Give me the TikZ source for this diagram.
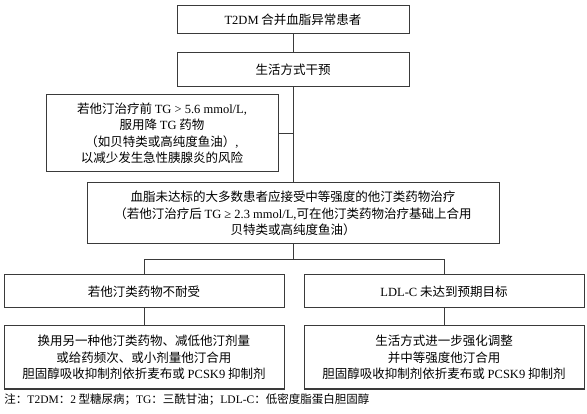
\documentclass[tikz,border=0pt]{standalone}
\usepackage{fontspec}
\setmainfont{Noto Sans CJK SC}
\newfontfamily\latfont{Liberation Serif}
\newcommand{\lat}[1]{{\latfont #1}}
\usetikzlibrary{positioning}
\definecolor{linegray}{HTML}{3A3A3A}

\begin{document}
\begin{tikzpicture}[x=1pt,y=-1pt,line width=1pt,draw=linegray,
    box/.style={draw=linegray,align=center,inner sep=2pt,font=\fontsize{12.5}{16.5}\selectfont},
    wide box/.style={box,minimum width=232pt},
    low box/.style={box,minimum width=280pt}]
\useasboundingbox (0,0) rectangle (587,414);

\node[wide box,minimum height=28pt] (t2dm) at (293,20) {\lat{T2DM} 合并血脂异常患者};
\node[wide box,minimum height=34pt] (life) [below=18pt of t2dm] {生活方式干预};
\node[wide box,minimum height=77pt] (tg) at (162,133.5) {若他汀治疗前 \lat{TG > 5.6 mmol/L,}\\服用降 \lat{TG} 药物\\（如贝特类或高纯度鱼油）\lat{,}\\以减少发生急性胰腺炎的风险};
\node[box,minimum width=412pt,minimum height=61pt] (statin) at (293,213.5) {血脂未达标的大多数患者应接受中等强度的他汀类药物治疗\\（若他汀治疗后 \lat{TG ≥ 2.3 mmol/L,}可在他汀类药物治疗基础上合用\\贝特类或高纯度鱼油）};
\node[low box,minimum height=33pt] (intol) at (144,291.5) {若他汀类药物不耐受};
\node[low box,minimum height=33pt] (ldl) [right=19pt of intol] {\lat{LDL-C} 未达到预期目标};
\node[low box,minimum height=63pt] (swap) [below=17pt of intol] {换用另一种他汀类药物、减低他汀剂量\\或给药频次、或小剂量他汀合用\\胆固醇吸收抑制剂依折麦布或 \lat{PCSK9} 抑制剂};
\node[low box,minimum height=63pt] (intens) [below=17pt of ldl] {生活方式进一步强化调整\\并中等强度他汀合用\\胆固醇吸收抑制剂依折麦布或 \lat{PCSK9} 抑制剂};
\node[anchor=west,inner sep=0pt,font=\fontsize{11.5}{14}\selectfont] (note) at (4,400) {注：\lat{T2DM}：\lat{2} 型糖尿病；\lat{TG}：三酰甘油；\lat{LDL-C}：低密度脂蛋白胆固醇};

\draw (t2dm) -- (life);
\draw (life) -- (statin);
\draw (tg.east) -- (tg.east -| statin.north);
\draw (statin.south) -- ++(0,15) coordinate (split);
\draw (intol.north) |- (split) -| (ldl.north);
\draw (intol) -- (swap);
\draw (ldl) -- (intens);
\end{tikzpicture}
\end{document}
